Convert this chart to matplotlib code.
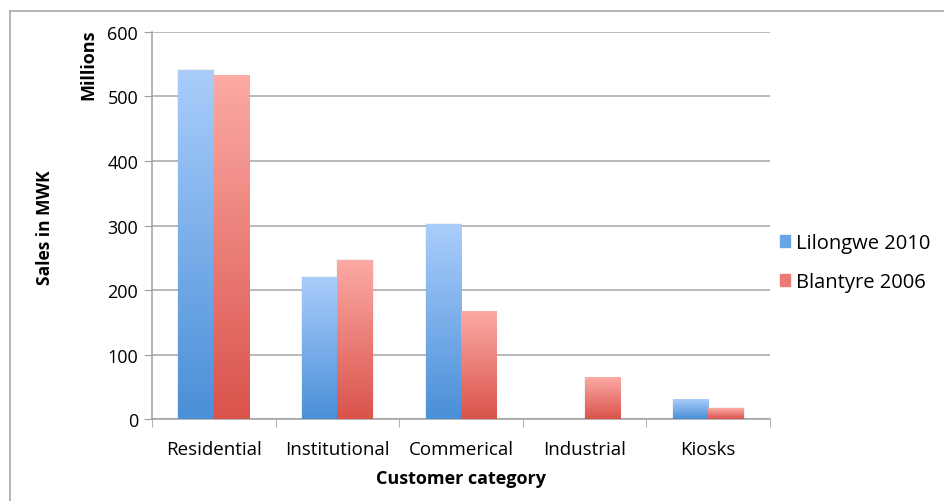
import numpy as np
import matplotlib.pyplot as plt
from matplotlib.colors import LinearSegmentedColormap
from matplotlib.lines import Line2D
from matplotlib.patches import Rectangle

categories = ['Residential', 'Institutional', 'Commerical', 'Industrial', 'Kiosks']
lilongwe_2010 = [541, 220, 302, 0, 30]
blantyre_2006 = [532, 246, 166, 64, 17]
series_names = ['Lilongwe 2010', 'Blantyre 2006']

plt.rcParams['font.family'] = ['Open Sans', 'DejaVu Sans']

blue = LinearSegmentedColormap.from_list('blue', ['#4a8fd8', '#aacdfb'])
red = LinearSegmentedColormap.from_list('red', ['#d9534b', '#fcaaa5'])

fig = plt.figure(figsize=(9.45, 5.02), dpi=100)
ax = fig.add_axes([0.1608, 0.1633, 0.654, 0.771])

width = 0.286
x = np.arange(len(categories))
grad = np.linspace(0, 1, 256).reshape(-1, 1)


def gradient_bars(xs, vals, cmap):
    for xi, v in zip(xs, vals):
        if v <= 0:
            continue
        ax.imshow(grad, cmap=cmap, origin='lower', aspect='auto',
                  extent=(xi, xi + width, 0, v), zorder=3)
        ax.add_patch(Rectangle((xi, 0), width, v, fill=False,
                               edgecolor=(0, 0, 0, 0.06), lw=1.2, zorder=2.9))


gradient_bars(x - width, lilongwe_2010, blue)
gradient_bars(x, blantyre_2006, red)

ax.set_xlim(-0.5, len(categories) - 0.5)
ax.set_ylim(0, 600)
ax.set_yticks(range(0, 601, 100))
ax.set_xticks(x)
ax.set_xticklabels(categories, fontsize=13.5)
ax.set_xticks(np.arange(-0.5, len(categories), 1), minor=True)
ax.tick_params(axis='x', which='major', length=0, pad=15)
ax.tick_params(axis='x', which='minor', length=6, color='#a0a0a0')
ax.tick_params(axis='y', length=6, color='#a0a0a0', labelsize=13, pad=4)

ax.grid(axis='y', color='#a6a6a6', lw=1.1, zorder=0)
ax.set_axisbelow(True)
for s in ['top', 'right']:
    ax.spines[s].set_visible(False)
for s in ['left', 'bottom']:
    ax.spines[s].set_color('#a0a0a0')
    ax.spines[s].set_linewidth(1.1)

ax.set_xlabel('Customer category', fontsize=13, fontweight='bold', labelpad=8)
fig.text(0.048, 0.546, 'Sales in MWK', rotation=90, fontsize=12.5,
         fontweight='bold', ha='center', va='center')
fig.text(0.093, 0.942, 'Millions', rotation=90, fontsize=13,
         fontweight='bold', ha='center', va='top')

handles = [Rectangle((0, 0), 1, 1, color='#6aa5e6'),
           Rectangle((0, 0), 1, 1, color='#ea7a74')]
fig.legend(handles, series_names, loc='center left',
           bbox_to_anchor=(0.806, 0.475), frameon=False, fontsize=14.5,
           handlelength=0.5, handleheight=0.5, handletextpad=0.3,
           labelspacing=0.95)

# chart frame (top and left edges)
fig.add_artist(Line2D([10 / 945, 1], [1 - 12 / 502] * 2, color='#a8a8a8', lw=1.2))
fig.add_artist(Line2D([10 / 945] * 2, [0, 1 - 12 / 502], color='#a8a8a8', lw=1.2))

fig.savefig('out.png', dpi=100)
